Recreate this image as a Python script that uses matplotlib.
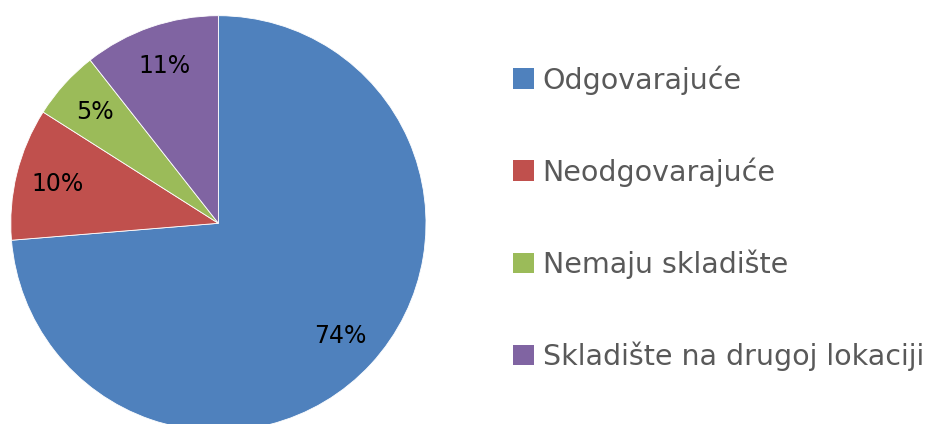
import matplotlib
matplotlib.use("Agg")
import matplotlib.pyplot as plt

categories = ["Odgovarajuće", "Neodgovarajuće", "Nemaju skladište", "Skladište na drugoj lokaciji"]
values = [73.7, 10.3, 5.4, 10.6]
colors = ["#4F81BD", "#C0504D", "#9BBB59", "#8064A2"]

W, H = 929, 424
fig = plt.figure(figsize=(W / 100, H / 100), dpi=100)
cx, cy, r = 218.4, 223.3, 207.6
ax = fig.add_axes([(cx - r) / W, (H - cy - r) / H, 2 * r / W, 2 * r / H])

wedges, texts, autotexts = ax.pie(
    values, colors=colors, startangle=90, counterclock=False,
    autopct=lambda p: f"{p:.0f}%", pctdistance=0.8,
    wedgeprops=dict(edgecolor="white", linewidth=0.6),
    textprops=dict(fontsize=17, color="black", family="DejaVu Sans"),
)
ax.set_xlim(-1, 1)
ax.set_ylim(-1, 1)
ax.set_aspect("equal")
ax.axis("off")

fs = 20.5
leg = fig.legend(
    wedges, categories, loc="center left",
    bbox_to_anchor=(513 / W, 1 - 218 / H), frameon=False,
    fontsize=fs, handlelength=0.74, handleheight=0.74, handletextpad=0.3,
    labelspacing=2.2, borderpad=0, borderaxespad=0,
)
for t in leg.get_texts():
    t.set_color("#595959")
for h in leg.legend_handles:
    h.set_edgecolor("none")

fig.savefig("out.png", dpi=100)
